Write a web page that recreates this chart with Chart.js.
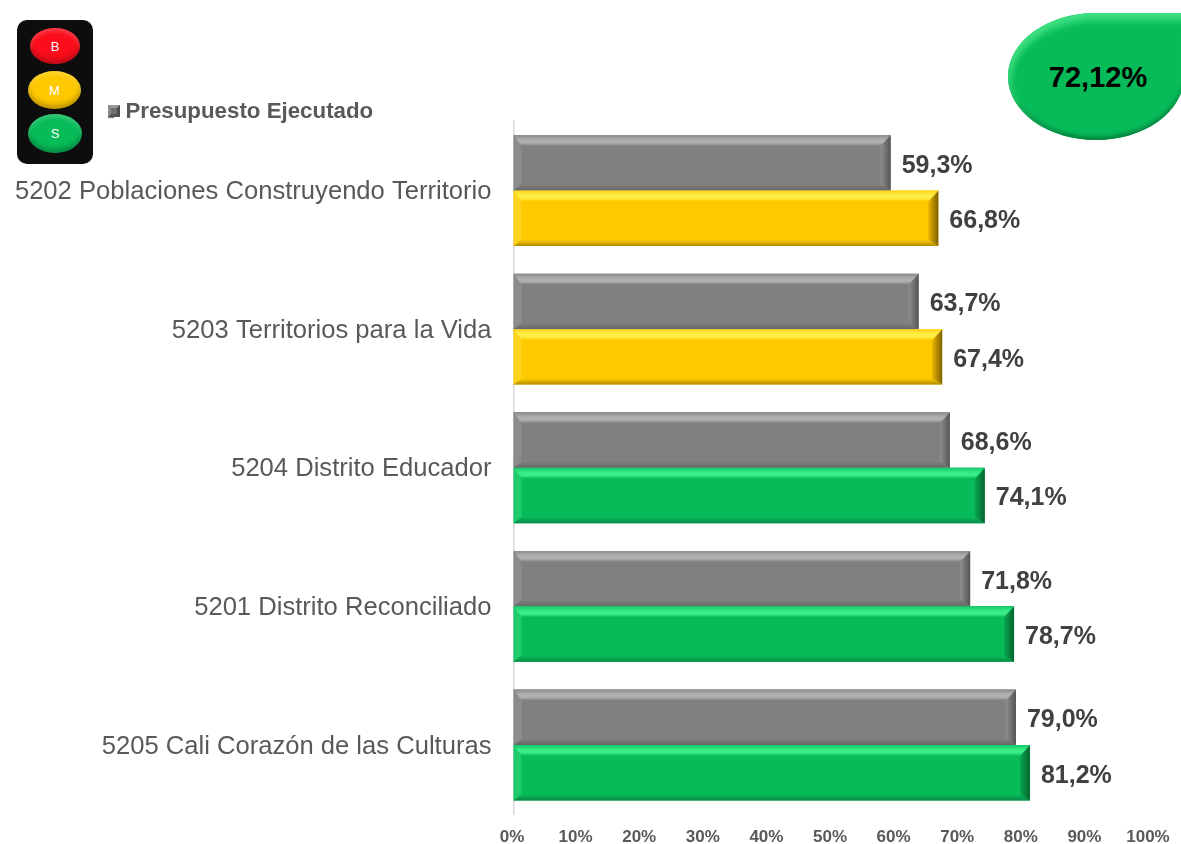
<!DOCTYPE html>
<html lang="es">
<head>
<meta charset="utf-8">
<style>
html,body{margin:0;padding:0;background:#fff;overflow:hidden}
#wrap{position:relative;width:1181px;height:844px;overflow:hidden;font-family:"Liberation Sans",Arial,sans-serif}
#wrap canvas{position:absolute;left:0;top:0}
.light{position:absolute;border-radius:50%;color:#fff;font-size:13px;display:flex;align-items:center;justify-content:center;box-shadow:inset 0 -4px 5px rgba(0,0,0,.25),inset 0 3px 4px rgba(255,255,255,.22)}
#box{position:absolute;left:17px;top:20px;width:76px;height:144px;background:#0d0d0d;border-radius:10px}
#pill{position:absolute;left:1008px;top:13px;width:176px;height:127px;background:#07bb58;border-radius:50% 0 50% 50%;box-shadow:inset 0 10px 8px -3px #3fe083,inset 6px 4px 6px -2px #2fd574,inset 0 -4px 4px -1px #067f3d;display:flex;align-items:center;justify-content:center;font-weight:bold;font-size:29px;color:#000}
#pill span{position:relative;top:1px;left:2px}
</style>
</head>
<body>
<div id="wrap">
<canvas id="c" width="1181" height="844"></canvas>
<div id="box"></div>
<div class="light" style="left:30px;top:28px;width:50px;height:36px;background:#fb0d1b">B</div>
<div class="light" style="left:28px;top:71px;width:53px;height:38px;background:#ffc800">M</div>
<div class="light" style="left:28px;top:114px;width:54px;height:39px;background:#07bb58">S</div>
<div id="pill"><span>72,12%</span></div>
</div>
<script src="https://cdn.jsdelivr.net/npm/chart.js@4/dist/chart.umd.min.js"></script>
<script>
const categories = ["5202 Poblaciones Construyendo Territorio","5203 Territorios para la Vida","5204 Distrito Educador","5201 Distrito Reconciliado","5205 Cali Corazón de las Culturas"];
const ejecutado = [59.3,63.7,68.6,71.8,79.0];
const fisico = [66.8,67.4,74.1,78.7,81.2];
const fisicoColors = ["#ffc900","#ffc900","#07bb58","#07bb58","#07bb58"];
const seriesNames = ["Presupuesto Ejecutado","Avance"];
const gray = "#808080";

const bevel = {
  "#808080":{t0:"#8a8a8a",t1:"#b0b0b0",l:"#8c8c8c",r0:"#8e8e8e",r1:"#555555",b:"#666666"},
  "#ffc900":{t0:"#ffd21e",t1:"#ffee44",l:"#ffd21e",r0:"#e8b400",r1:"#7d6200",b:"#b08c00"},
  "#07bb58":{t0:"#12c868",t1:"#38ec88",l:"#1fcc6c",r0:"#08a850",r1:"#05642f",b:"#0a8a48"}
};
function poly(ctx,pts,fill){ctx.beginPath();pts.forEach((p,i)=>i?ctx.lineTo(p[0],p[1]):ctx.moveTo(p[0],p[1]));ctx.closePath();ctx.fillStyle=fill;ctx.fill();}
const bevelPlugin = {
  id:"bevelAndLabels",
  afterLayout(chart){
    const lg = chart.legend;
    lg.left = 98; lg.right = 420; lg.top = 91; lg.bottom = 128;
  },
  afterDraw(chart){
    const ctx = chart.ctx;
    ctx.save();
    const x=108,y=105,s=12;
    ctx.fillStyle="#6f6f6f";ctx.fillRect(x,y,s,s);
    poly(ctx,[[x,y],[x+s,y],[x+s-3,y+3],[x+3,y+3]],"#9a9a9a");
    poly(ctx,[[x+s,y],[x+s,y+s],[x+s-3,y+s-3],[x+s-3,y+3]],"#4d4d4d");
    poly(ctx,[[x,y+s],[x+s,y+s],[x+s-3,y+s-3],[x+3,y+s-3]],"#555555");
    poly(ctx,[[x,y],[x,y+s],[x+3,y+s-3],[x+3,y+3]],"#8a8a8a");
    ctx.restore();
  },
  afterDatasetsDraw(chart){
    const ctx = chart.ctx;
    chart.data.datasets.forEach((ds,di)=>{
      chart.getDatasetMeta(di).data.forEach((el,i)=>{
        const col = Array.isArray(ds.backgroundColor)?ds.backgroundColor[i]:ds.backgroundColor;
        const c = bevel[col];
        const x0 = el.base, x1 = el.x, y0 = el.y-el.height/2, y1 = el.y+el.height/2;
        const L=8,R=10,T=11,B=6;
        ctx.save();
        poly(ctx,[[x0,y0],[x0+L,y0+T],[x0+L,y1-B],[x0,y1]],c.l);
        const gr = ctx.createLinearGradient(x1-R,0,x1,0);
        gr.addColorStop(0,c.r0);gr.addColorStop(1,c.r1);
        poly(ctx,[[x1,y0],[x1-R,y0+T],[x1-R,y1-B],[x1,y1]],gr);
        const g = ctx.createLinearGradient(0,y0,0,y0+T);
        g.addColorStop(0,c.t0);g.addColorStop(.45,c.t1);g.addColorStop(.7,c.t1);g.addColorStop(1,col);
        poly(ctx,[[x0,y0],[x1,y0],[x1-R,y0+T],[x0+L,y0+T]],g);
        const gb = ctx.createLinearGradient(0,y1-B,0,y1);
        gb.addColorStop(0,col);gb.addColorStop(1,c.b);
        poly(ctx,[[x0,y1],[x1,y1],[x1-R,y1-B],[x0+L,y1-B]],gb);
        ctx.fillStyle="#404040";
        ctx.font="bold 25px 'Liberation Sans',Arial,sans-serif";
        ctx.textAlign="left";ctx.textBaseline="middle";
        ctx.fillText(ds.data[i].toFixed(1).replace(".",",")+"%",x1+11,el.y+3);
        ctx.restore();
      });
    });
  }
};
new Chart(document.getElementById("c"),{
  type:"bar",
  plugins:[bevelPlugin],
  data:{labels:categories,datasets:[
    {label:seriesNames[0],data:ejecutado,backgroundColor:gray,categoryPercentage:.8,barPercentage:1},
    {label:seriesNames[1],data:fisico,backgroundColor:fisicoColors,categoryPercentage:.8,barPercentage:1}
  ]},
  options:{
    indexAxis:"y",responsive:false,animation:false,
    layout:{padding:{left:0,top:121.2,right:31.5,bottom:0}},
    plugins:{
      tooltip:{enabled:false},title:{display:false},
      legend:{display:true,position:"chartArea",align:"start",
        labels:{boxWidth:6.25,boxHeight:12,padding:10,color:"#595959",
          font:{family:"'Liberation Sans',Arial,sans-serif",size:22.3,weight:"bold"},
          filter:(it)=>it.datasetIndex===0}}
    },
    scales:{
      x:{min:0,max:100,position:"bottom",
        afterFit(s){s.height=29.7;},
        grid:{display:false,drawTicks:true,tickLength:9,tickColor:"transparent"},border:{display:false},
        ticks:{stepSize:10,padding:4,labelOffset:-1.5,maxRotation:0,autoSkip:false,color:"#595959",
          font:{family:"'Liberation Sans',Arial,sans-serif",size:17,weight:"bold"},
          callback:v=>v+"%"}},
      y:{
        afterFit(s){s.width=513.5;},
        grid:{display:false,drawTicks:true,tickLength:18,tickColor:"transparent"},border:{display:true,color:"#d9d9d9",width:1.5},
        ticks:{padding:4,labelOffset:1.5,color:"#595959",autoSkip:false,
          font:{family:"'Liberation Sans',Arial,sans-serif",size:25.6}}}
    }
  }
});
</script>
</body>
</html>
